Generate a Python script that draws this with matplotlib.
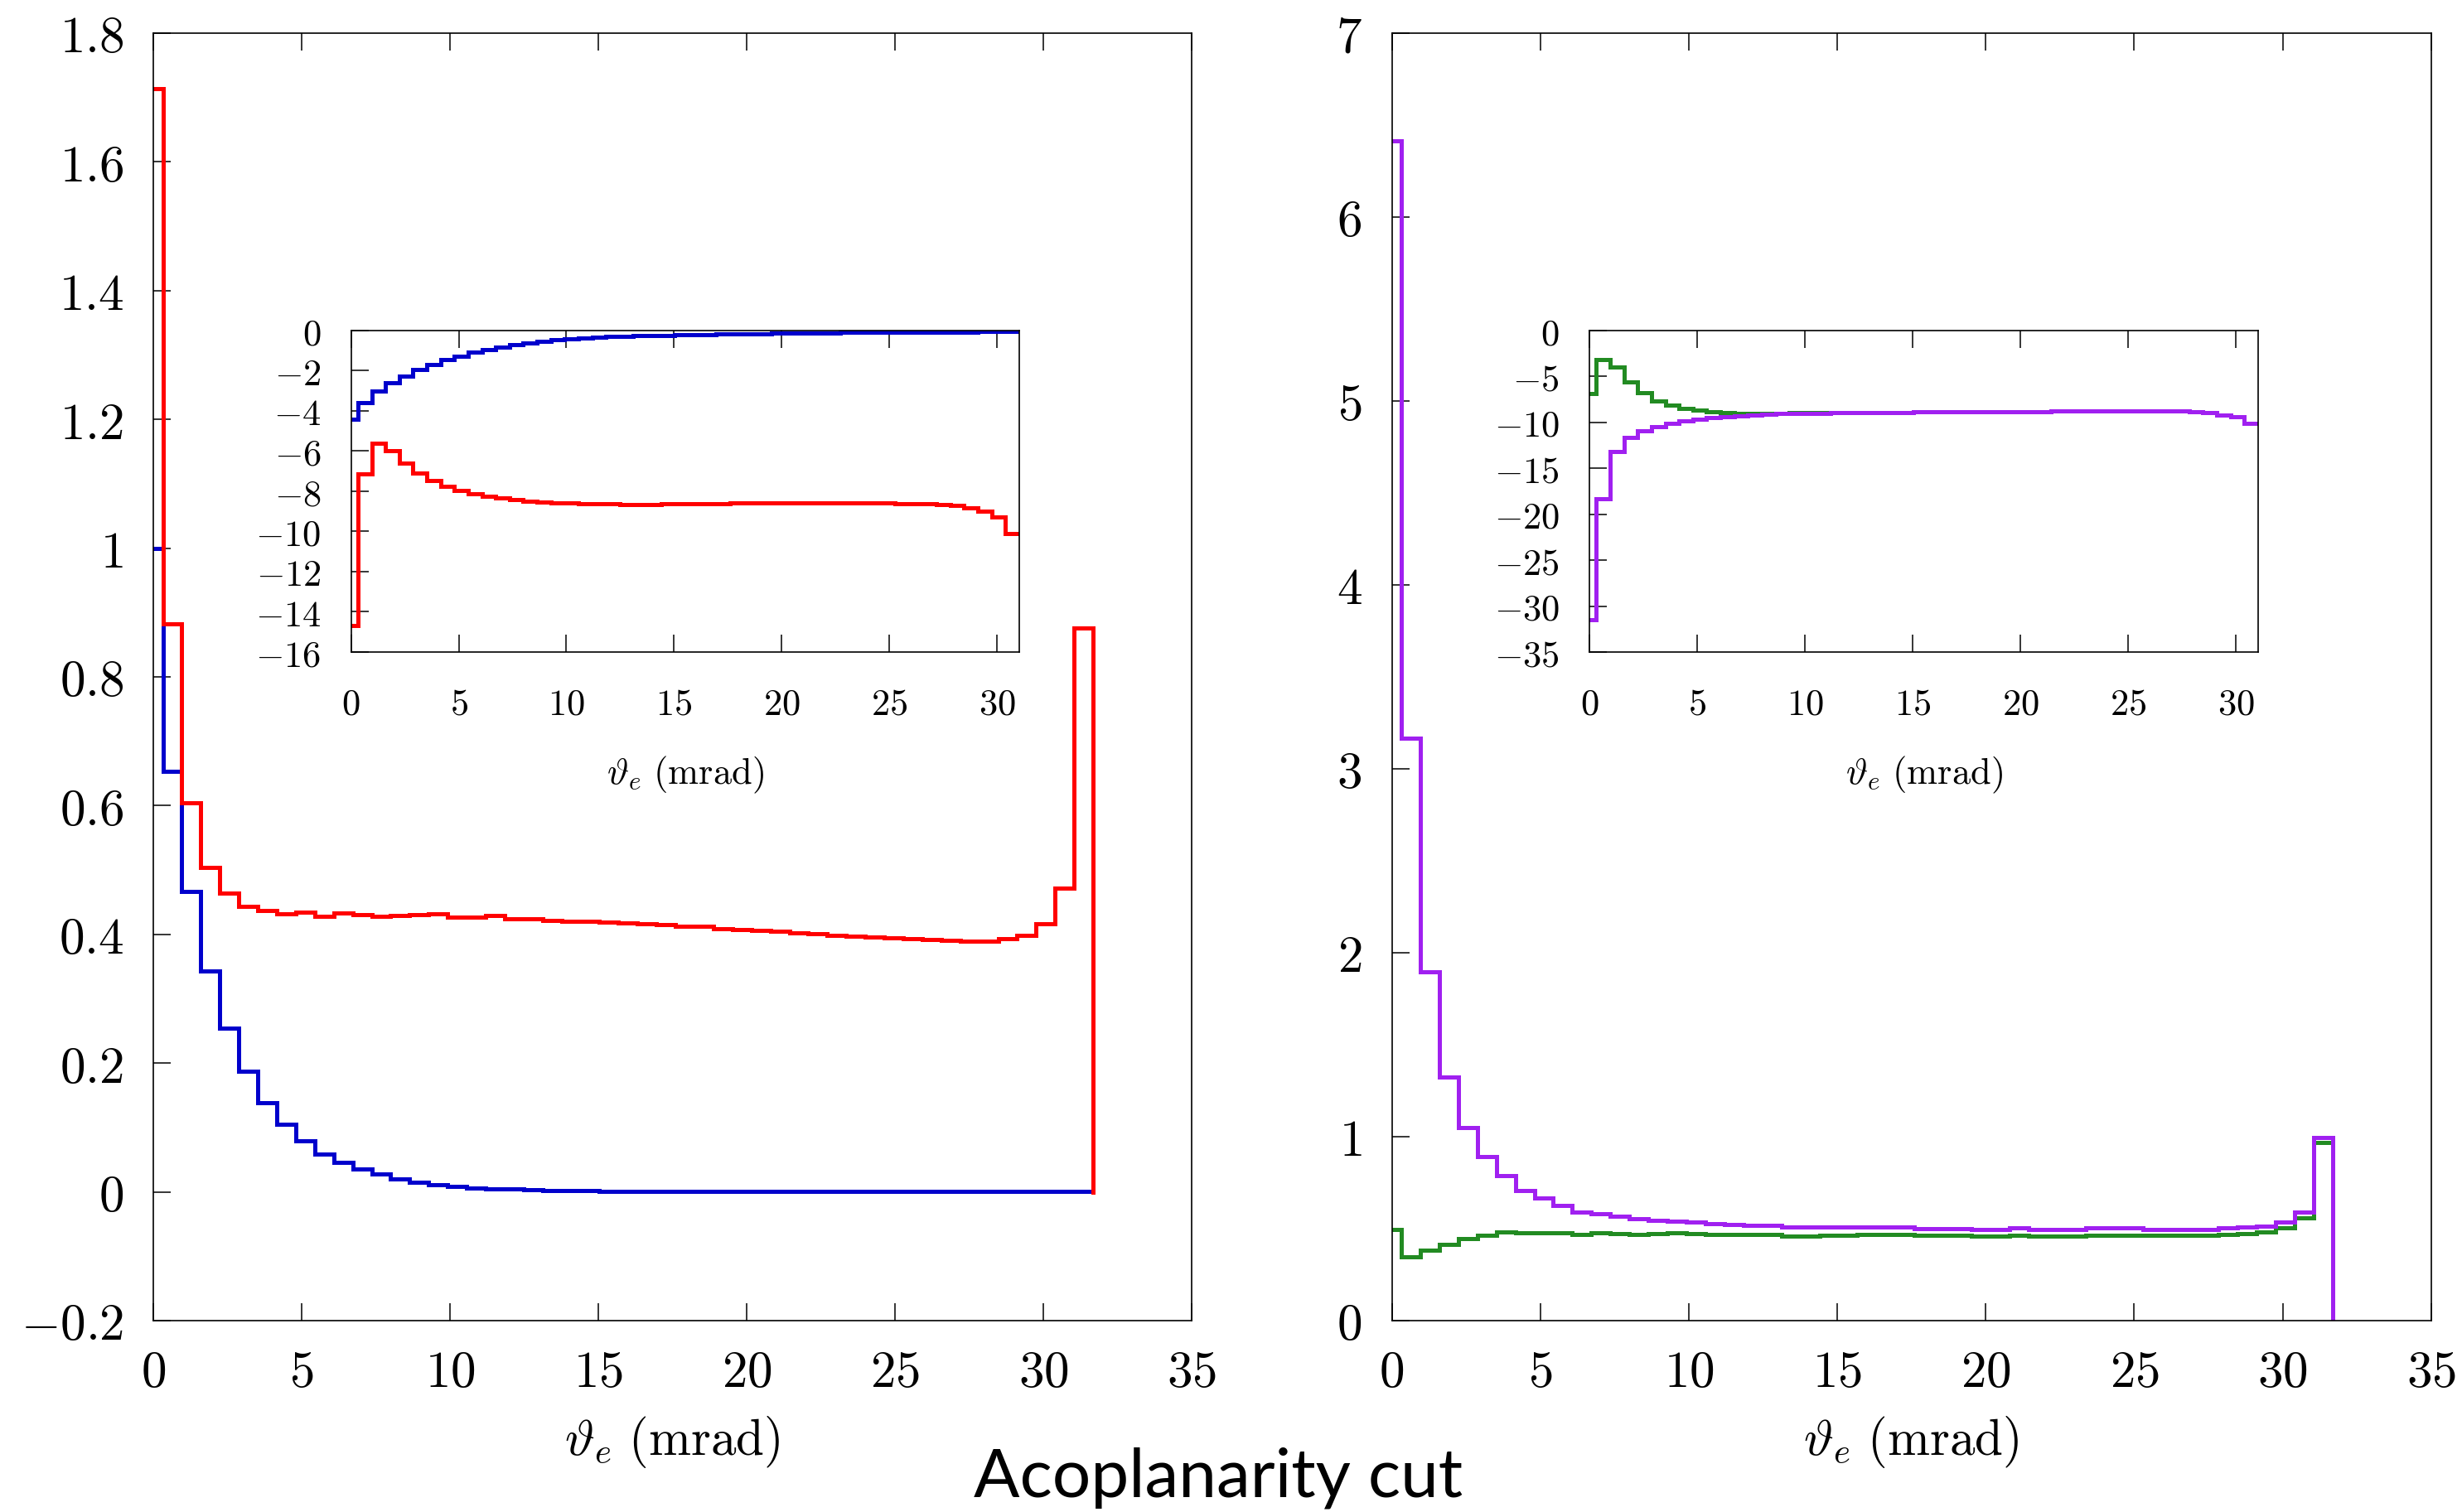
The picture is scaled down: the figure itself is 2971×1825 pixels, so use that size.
import matplotlib.pyplot as plt
import numpy as np
from matplotlib.ticker import MultipleLocator, FuncFormatter

plt.rcParams['mathtext.fontset'] = 'cm'
plt.rcParams['font.family'] = 'DejaVu Serif'

# bin edges (mrad): first bin is a half bin, then 0.64 mrad bins
bin_w = 0.64
edges = np.concatenate([[0.0], 0.32 + bin_w * np.arange(50)])

# left panel, main plot
red_main = [1.714, 0.882, 0.604, 0.504, 0.464, 0.444, 0.437, 0.432, 0.434, 0.4285,
            0.4327, 0.4306, 0.4285, 0.4297, 0.4301, 0.4323, 0.4271, 0.4263, 0.4297, 0.4241,
            0.4237, 0.4212, 0.4199, 0.4203, 0.4186, 0.4177, 0.416, 0.4156, 0.4121, 0.4121,
            0.4092, 0.407, 0.4062, 0.4045, 0.4023, 0.4015, 0.398, 0.3972, 0.3963, 0.395,
            0.3933, 0.3916, 0.3907, 0.390, 0.390, 0.393, 0.398, 0.416, 0.472, 0.876]
blue_main = [1.0, 0.653, 0.467, 0.343, 0.254, 0.187, 0.139, 0.105, 0.079, 0.059,
             0.046, 0.035, 0.028, 0.020, 0.015, 0.011, 0.008, 0.006, 0.005, 0.004,
             0.003, 0.0025, 0.002, 0.0015, 0.001, 0.001, 0.001, 0.001, 0.001, 0.001,
             0.0008, 0.0008, 0.0008, 0.0006, 0.0006, 0.0006, 0.0005, 0.0005, 0.0005, 0.0004,
             0.0004, 0.0004, 0.0003, 0.0003, 0.0003, 0.0002, 0.0002, 0.0002, 0.0001, 0.0001]

# left panel, inset
red_inset = [-14.7, -7.14, -5.61, -5.98, -6.59, -7.08, -7.47, -7.75, -7.97, -8.12,
             -8.25, -8.34, -8.43, -8.49, -8.54, -8.58, -8.6, -8.62, -8.63, -8.64,
             -8.65, -8.65, -8.65, -8.64, -8.64, -8.63, -8.62, -8.61, -8.6, -8.6,
             -8.59, -8.59, -8.58, -8.58, -8.58, -8.58, -8.58, -8.58, -8.59, -8.6,
             -8.61, -8.62, -8.64, -8.68, -8.72, -8.83, -9.0, -9.3, -10.1]
blue_inset = [-4.4, -3.58, -3.03, -2.62, -2.25, -1.94, -1.70, -1.46, -1.27, -1.09,
              -0.94, -0.81, -0.72, -0.63, -0.54, -0.46, -0.40, -0.36, -0.33, -0.30,
              -0.28, -0.26, -0.245, -0.23, -0.215, -0.20, -0.19, -0.18, -0.17, -0.16,
              -0.15, -0.14, -0.13, -0.125, -0.12, -0.11, -0.105, -0.10, -0.095, -0.09,
              -0.085, -0.08, -0.075, -0.07, -0.07, -0.065, -0.06, -0.06, -0.06]

# right panel, main plot
purple_main = [6.416, 3.165, 1.894, 1.325, 1.049, 0.891, 0.788, 0.705, 0.665, 0.627,
               0.591, 0.583, 0.567, 0.555, 0.547, 0.542, 0.536, 0.528, 0.523, 0.517,
               0.517, 0.510, 0.510, 0.510, 0.510, 0.510, 0.507, 0.507, 0.501, 0.502,
               0.501, 0.496, 0.496, 0.504, 0.496, 0.496, 0.496, 0.504, 0.504, 0.504,
               0.494, 0.494, 0.494, 0.494, 0.504, 0.507, 0.515, 0.536, 0.590, 0.997]
green_main = [0.496, 0.346, 0.381, 0.412, 0.444, 0.464, 0.480, 0.476, 0.476, 0.476,
              0.469, 0.476, 0.472, 0.469, 0.472, 0.476, 0.472, 0.469, 0.467, 0.467,
              0.467, 0.460, 0.460, 0.464, 0.464, 0.467, 0.467, 0.467, 0.464, 0.464,
              0.464, 0.460, 0.460, 0.464, 0.460, 0.460, 0.460, 0.464, 0.464, 0.464,
              0.462, 0.462, 0.462, 0.462, 0.467, 0.472, 0.480, 0.504, 0.559, 0.970]

# right panel, inset
green_inset = [-6.84, -3.16, -3.95, -5.6, -6.77, -7.63, -8.14, -8.49, -8.69, -8.83,
               -8.93, -9.0, -9.02, -9.02, -9.0, -8.98, -8.96, -8.95, -8.94, -8.93,
               -8.92, -8.91, -8.9, -8.9, -8.89, -8.88, -8.87, -8.86, -8.85, -8.84,
               -8.83, -8.83, -8.82, -8.81, -8.8, -8.79, -8.78, -8.77, -8.76, -8.74,
               -8.73, -8.73, -8.73, -8.78, -8.86, -8.98, -9.18, -9.35, -10.1]
purple_inset = [-31.5, -18.3, -13.2, -11.6, -10.9, -10.5, -10.14, -9.86, -9.69, -9.52,
                -9.38, -9.28, -9.21, -9.14, -9.07, -9.04, -9.01, -8.99, -8.97, -8.96,
                -8.95, -8.94, -8.93, -8.92, -8.89, -8.88, -8.87, -8.86, -8.85, -8.84,
                -8.83, -8.83, -8.82, -8.81, -8.8, -8.79, -8.78, -8.77, -8.76, -8.74,
                -8.73, -8.73, -8.73, -8.78, -8.86, -8.98, -9.18, -9.35, -10.1]

RED = '#ff0000'
BLUE = '#0000cc'
GREEN = '#228b22'
PURPLE = '#a020f0'
LW = 3.6


def fmt(v, pos):
    v = round(v, 6) + 0.0
    return '$%g$' % v


def steps(ax, vals, color, drop=None):
    x = edges[:len(vals) + 1]
    y = np.append(vals, vals[-1] if drop is None else drop)
    ax.plot(x, y, drawstyle='steps-post', color=color, lw=LW, solid_joinstyle='miter')


def style(ax, size, xpad, ypad):
    ax.tick_params(direction='in', top=True, right=False, length=15, width=1.1,
                   labelsize=size)
    ax.tick_params(axis='x', pad=xpad)
    ax.tick_params(axis='y', pad=ypad)
    for s in ax.spines.values():
        s.set_linewidth(1.2)
    ax.xaxis.set_major_formatter(FuncFormatter(fmt))
    ax.yaxis.set_major_formatter(FuncFormatter(fmt))


xlabel = r'$\vartheta_e\ (\mathrm{mrad})$'

fig = plt.figure(figsize=(29.71, 18.25), dpi=100)

# ---- left panel
ax1 = fig.add_axes([0.0623, 0.1266, 0.4217, 0.8515])
steps(ax1, blue_main, BLUE)
steps(ax1, red_main, RED, drop=0)
ax1.set_xlim(0, 35)
ax1.set_ylim(-0.2, 1.8)
ax1.xaxis.set_major_locator(MultipleLocator(5))
ax1.yaxis.set_major_locator(MultipleLocator(0.2))
style(ax1, 44, 24, 26)
ax1.set_xlabel(xlabel, fontsize=44, labelpad=14)

in1 = fig.add_axes([0.1426, 0.5688, 0.2714, 0.2126])
steps(in1, blue_inset, BLUE)
steps(in1, red_inset, RED)
in1.set_xlim(0, edges[len(red_inset)])
in1.set_ylim(-16, 0)
in1.xaxis.set_major_locator(MultipleLocator(5))
in1.yaxis.set_major_locator(MultipleLocator(2))
style(in1, 32, 30, 26)
in1.set_xlabel(xlabel, fontsize=32, labelpad=28)

# ---- right panel
ax2 = fig.add_axes([0.5653, 0.1266, 0.4222, 0.8515])
steps(ax2, green_main, GREEN, drop=0)
steps(ax2, purple_main, PURPLE, drop=0)
ax2.set_xlim(0, 35)
ax2.set_ylim(0, 7)
ax2.xaxis.set_major_locator(MultipleLocator(5))
ax2.yaxis.set_major_locator(MultipleLocator(1))
style(ax2, 44, 24, 26)
ax2.set_xlabel(xlabel, fontsize=44, labelpad=14)

in2 = fig.add_axes([0.6456, 0.5688, 0.2716, 0.2126])
steps(in2, green_inset, GREEN)
steps(in2, purple_inset, PURPLE)
in2.set_xlim(0, edges[len(green_inset)])
in2.set_ylim(-35, 0)
in2.xaxis.set_major_locator(MultipleLocator(5))
in2.yaxis.set_major_locator(MultipleLocator(5))
style(in2, 32, 30, 26)
in2.set_xlabel(xlabel, fontsize=32, labelpad=28)

fig.text(0.4948, 0.0099, 'Acoplanarity cut', ha='center', va='baseline',
         fontsize=59, family='Lato')

fig.savefig('out.png', dpi=100)
